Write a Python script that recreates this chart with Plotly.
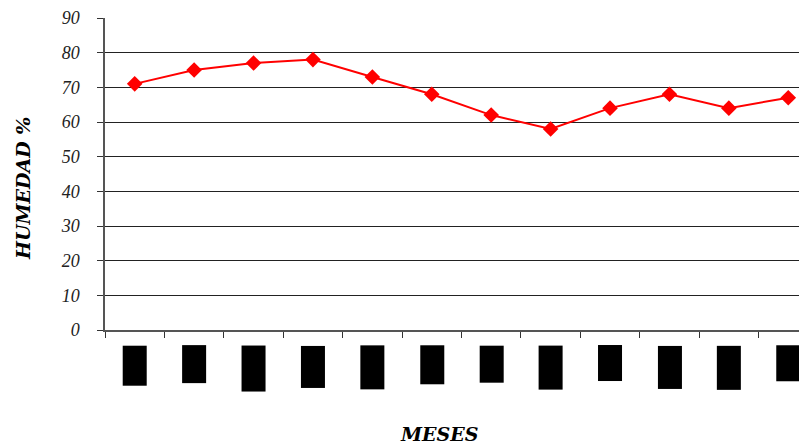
import plotly.graph_objects as go

months = ["ENE", "FEB", "MAR", "ABR", "MAY", "JUN", "JUL", "AGO", "SEP", "OCT", "NOV", "DIC"]
humedad = [71, 75, 77, 78, 73, 68, 62, 58, 64, 68, 64, 67]
y_ticks = [0, 10, 20, 30, 40, 50, 60, 70, 80, 90]

fig = go.Figure()
fig.add_trace(go.Scatter(
    x=months, y=humedad, mode="lines+markers",
    line=dict(color="#ff0000", width=2),
    marker=dict(symbol="diamond", size=12, color="#ff0000"),
    showlegend=False,
))

# month labels rendered as black blocks, as in the reference
for m in months:
    fig.add_annotation(
        x=m, xref="x", y=0, yref="paper", yanchor="top", yshift=-15,
        text=m, textangle=-90, showarrow=False,
        font=dict(family="Liberation Serif", size=17, color="black", weight="bold"),
        bgcolor="black", borderpad=2,
    )

title_font = dict(family="DejaVu Serif", size=19, color="black", weight="bold", style="italic")

# axis titles placed as in the reference
fig.add_annotation(text="HUMEDAD %", textangle=-90, showarrow=False,
                   xref="paper", yref="paper", x=-0.1155, y=0.455,
                   xanchor="center", yanchor="middle", font=title_font)
fig.add_annotation(text="MESES", showarrow=False,
                   xref="paper", yref="paper", x=0.470, y=-0.333,
                   xanchor="center", yanchor="middle", font=title_font)

fig.update_layout(
    width=807, height=444,
    margin=dict(l=97, r=0, t=10, b=122),
    plot_bgcolor="white", paper_bgcolor="white",
    font=dict(family="Liberation Serif", color="#222"),
    xaxis=dict(
        type="category", range=[-0.5, 11.45],
        showticklabels=False, ticks="outside", tickson="boundaries",
        ticklen=6, tickcolor="#333", showgrid=False,
        showline=True, linecolor="#555", linewidth=1.5,
    ),
    yaxis=dict(
        range=[0, 90], tickvals=y_ticks, ticks="outside", ticklen=6, tickcolor="#333",
        showgrid=True, gridcolor="#222", gridwidth=1,
        showline=True, linecolor="#555", linewidth=1.5, zeroline=False,
        ticklabelstandoff=14,
        tickfont=dict(size=18, style="italic", color="#222"),
    ),
)

fig.write_html("out.html")
